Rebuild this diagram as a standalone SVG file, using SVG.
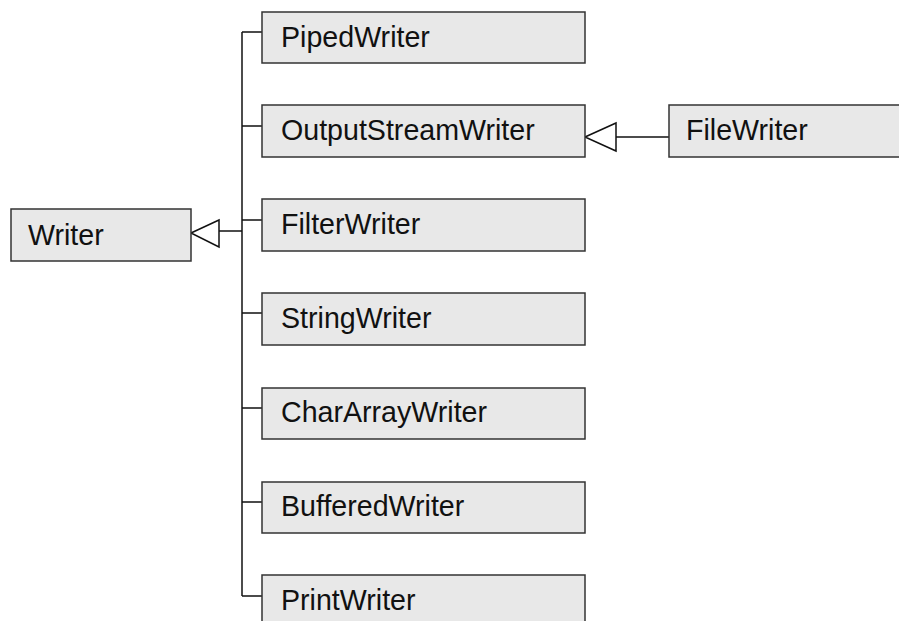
<svg xmlns="http://www.w3.org/2000/svg" width="899" height="621" viewBox="0 0 899 621">
<style>
.box{fill:#e8e8e8;stroke:#333;stroke-width:1.5}
.lbl{font-family:"Liberation Sans",Arial,sans-serif;font-size:28.6px;fill:#111}
.ln{fill:none;stroke:#111;stroke-width:1.5}
.tri{fill:#fff;stroke:#111;stroke-width:1.5}
</style>
<rect width="899" height="621" fill="#fff"/>
<g id="connectors">
<path class="ln" d="M242,32 V596"/>
<path class="ln" d="M242,32 H262 M242,126 H262 M242,220 H262 M242,313 H262 M242,408 H262 M242,502 H262 M242,596 H262"/>
<path class="ln" d="M219,231 H242"/>
<polygon class="tri" points="191,233 219,220 219,247"/>
<path class="ln" d="M616,137 H669"/>
<polygon class="tri" points="585,137 616,123 616,151"/>
</g>
<g id="Writer"><rect class="box" x="11" y="209" width="180" height="52"/><text class="lbl" x="28" y="245">Writer</text></g>
<g id="PipedWriter"><rect class="box" x="262" y="12" width="323" height="51"/><text class="lbl" x="281" y="47">PipedWriter</text></g>
<g id="OutputStreamWriter"><rect class="box" x="262" y="105" width="323" height="52"/><text class="lbl" x="281" y="140">OutputStreamWriter</text></g>
<g id="FileWriter"><rect class="box" x="669" y="105" width="260" height="52"/><text class="lbl" x="686" y="140">FileWriter</text></g>
<g id="FilterWriter"><rect class="box" x="262" y="199" width="323" height="52"/><text class="lbl" x="281" y="234">FilterWriter</text></g>
<g id="StringWriter"><rect class="box" x="262" y="293" width="323" height="52"/><text class="lbl" x="281" y="328">StringWriter</text></g>
<g id="CharArrayWriter"><rect class="box" x="262" y="388" width="323" height="51"/><text class="lbl" x="281" y="422">CharArrayWriter</text></g>
<g id="BufferedWriter"><rect class="box" x="262" y="482" width="323" height="51"/><text class="lbl" x="281" y="516">BufferedWriter</text></g>
<g id="PrintWriter"><rect class="box" x="262" y="575" width="323" height="60"/><text class="lbl" x="281" y="610">PrintWriter</text></g>
</svg>
